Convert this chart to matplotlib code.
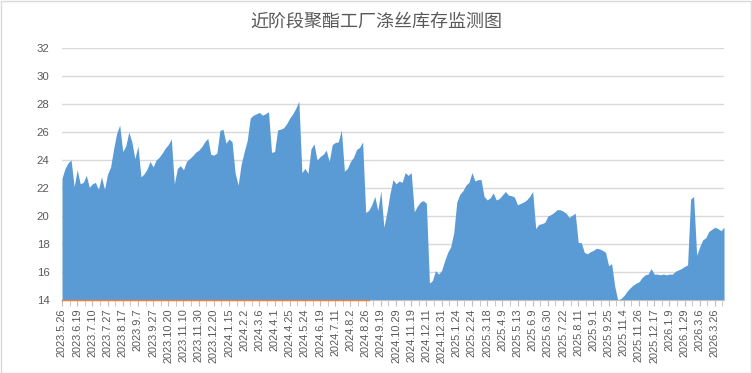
import numpy as np
import matplotlib
matplotlib.use("Agg")
import matplotlib.pyplot as plt
from matplotlib.patches import Rectangle

title = "近阶段聚酯工厂涤丝库存监测图"

# one tick label every 5 samples
date_labels = [
    "2023.5.26", "2023.6.19", "2023.7.10", "2023.7.27", "2023.8.17", "2023.9.7",
    "2023.9.27", "2023.10.20", "2023.11.10", "2023.11.30", "2023.12.20", "2024.1.15",
    "2024.2.2", "2024.3.6", "2024.4.1", "2024.4.25", "2024.5.24", "2024.6.19",
    "2024.7.11", "2024.8.2", "2024.8.26", "2024.9.19", "2024.10.29", "2024.11.19",
    "2024.12.11", "2024.12.31", "2025.1.24", "2025.2.24", "2025.3.18", "2025.4.9",
    "2025.5.13", "2025.6.9", "2025.6.30", "2025.7.22", "2025.8.11", "2025.9.1",
    "2025.9.25", "2025.11.4", "2025.11.26", "2025.12.17", "2026.1.9", "2026.1.29",
    "2026.3.6", "2026.3.26",
]
label_step = 5

# inventory days
inventory = [
    22.7, 23.4, 23.8, 24.0, 22.1, 23.3, 22.3, 22.4, 22.9, 22.05,
    22.3, 22.4, 21.9, 22.8, 21.9, 23.0, 23.5, 24.8, 25.9, 26.5,
    24.6, 25.0, 26.0, 25.3, 24.1, 25.0, 22.8, 23.0, 23.35, 23.9,
    23.5, 24.0, 24.2, 24.5, 24.85, 25.1, 25.5, 22.3, 23.4, 23.6,
    23.3, 23.9, 24.1, 24.3, 24.55, 24.7, 24.95, 25.3, 25.55, 24.4,
    24.35, 24.5, 26.1, 26.2, 25.2, 25.5, 25.3, 23.1, 22.2, 23.7,
    24.6, 25.4, 27.0, 27.2, 27.3, 27.4, 27.2, 27.3, 27.45, 24.55,
    24.6, 26.15, 26.2, 26.3, 26.6, 27.0, 27.3, 27.7, 28.2, 23.1,
    23.4, 23.05, 24.8, 25.15, 24.0, 24.25, 24.4, 24.7, 23.9, 25.1,
    25.25, 25.3, 26.15, 23.2, 23.4, 23.9, 24.2, 24.75, 24.9, 25.3,
    20.25, 20.4, 20.8, 21.4, 20.4, 21.8, 19.2, 20.3, 21.6, 22.6,
    22.3, 22.5, 22.4, 23.1, 22.9, 23.1, 20.3, 20.7, 21.0, 21.1,
    20.9, 15.2, 15.4, 16.1, 15.85, 16.1, 16.8, 17.4, 17.8, 18.8,
    21.0, 21.55, 21.8, 22.2, 22.4, 23.1, 22.5, 22.6, 22.6, 21.4,
    21.15, 21.3, 21.65, 21.15, 21.25, 21.5, 21.75, 21.5, 21.45, 21.35,
    20.8, 20.9, 21.0, 21.15, 21.4, 21.75, 19.1, 19.4, 19.45, 19.55,
    20.0, 20.1, 20.25, 20.45, 20.45, 20.35, 20.2, 19.9, 20.05, 20.2,
    18.1, 18.1, 17.4, 17.3, 17.45, 17.55, 17.7, 17.65, 17.55, 17.4,
    16.45, 16.6, 15.0, 14.0, 14.1, 14.3, 14.6, 14.85, 15.05, 15.2,
    15.3, 15.6, 15.8, 15.85, 16.25, 15.85, 15.85, 15.8, 15.85, 15.8,
    15.85, 15.85, 16.05, 16.15, 16.25, 16.4, 16.5, 21.2, 21.4, 17.2,
    17.8, 18.3, 18.45, 18.9, 19.05, 19.2, 19.1, 18.95, 19.2,
]

# second series, sits on the axis floor for the first part only
floor_series = [14.0] * 102

y_min, y_max, y_step = 14, 32, 2

blue = "#5B9BD5"
orange = "#ED7D31"
grey_text = "#595959"
grid_grey = "#D9D9D9"

fig = plt.figure(figsize=(7.52, 3.73), dpi=100)
ax = fig.add_axes([62 / 752, 1 - 300 / 373, (724 - 62) / 752, (300 - 48) / 373])

x = np.arange(len(inventory))
ax.fill_between(x, y_min, inventory, color=blue, linewidth=0, zorder=2)
ax.plot(np.arange(len(floor_series)), floor_series, color=orange, linewidth=1.0,
        zorder=4, clip_on=False)

ax.set_xlim(0, len(inventory) - 1)
ax.set_ylim(y_min, y_max)
ax.set_yticks(np.arange(y_min, y_max + 1, y_step))
ax.yaxis.grid(True, color=grid_grey, linewidth=1)
ax.set_axisbelow(True)

major = np.arange(len(date_labels)) * label_step
ax.set_xticks(major)
ax.set_xticklabels(date_labels, rotation=90, fontsize=7.9, color=grey_text,
                   family="Liberation Sans")
ax.set_xticks(major + label_step / 2, minor=True)
ax.tick_params(axis="x", which="both", length=4, color="#BFBFBF", pad=2)
ax.tick_params(axis="y", length=0, pad=9, labelsize=8.2, labelcolor=grey_text)
for lab in ax.get_yticklabels():
    lab.set_family("Liberation Sans")

for side in ["top", "right", "left"]:
    ax.spines[side].set_visible(False)
ax.spines["bottom"].set_color("#BFBFBF")

fig.text(0.5, 1 - 22 / 373, title, ha="center", va="center", fontsize=13,
         color=grey_text, family=["Noto Sans CJK SC", "DejaVu Sans"])

fig.patches.append(Rectangle((0.001, 0.001), 0.998, 0.997, transform=fig.transFigure,
                             fill=False, edgecolor=grid_grey, linewidth=1))

fig.savefig("out.png", dpi=100)
